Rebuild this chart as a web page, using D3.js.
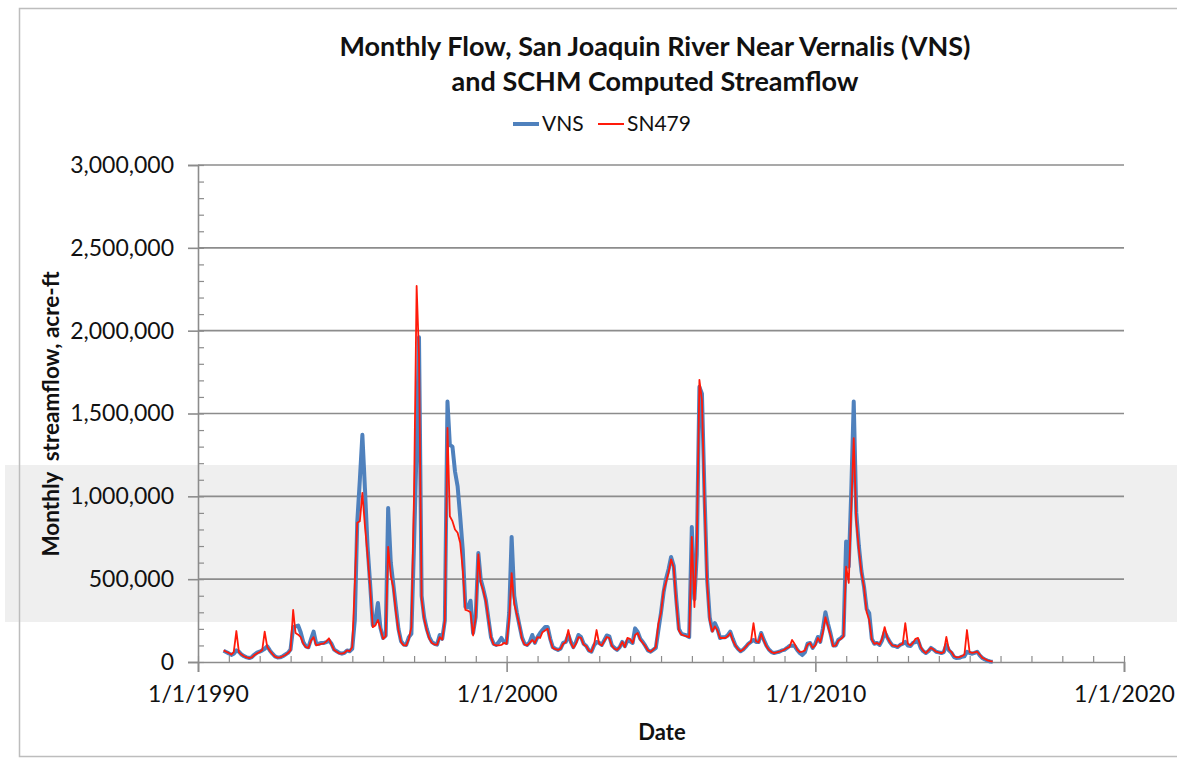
<!DOCTYPE html>
<html>
<head>
<meta charset="utf-8">
<script src="https://cdn.jsdelivr.net/npm/d3@7"></script>
<style>
  html, body { margin: 0; padding: 0; background: #ffffff; }
  svg { display: block; }
  text { font-family: Lato, "Noto Sans", sans-serif; fill: #111; }
</style>
</head>
<body>
<svg id="chart" width="1177" height="760"></svg>
<script>
// Monthly flow, water years 1991-2015 (Oct 1990 .. Sep 2015), acre-ft
const firstMonth = new Date(1990, 9, 1);
const lastMonthExclusive = new Date(2015, 9, 1);

// Observed flow, San Joaquin River near Vernalis
const vns = [
  // WY1991
  68000, 60000, 52000, 43000, 50000, 70000, 62000, 45000, 35000, 28000, 24000, 30000,
  // WY1992
  45000, 56000, 62000, 70000, 80000, 95000, 70000, 50000, 34000, 27000, 28000, 35000,
  // WY1993
  45000, 55000, 75000, 210000, 215000, 220000, 180000, 120000, 95000, 89000, 140000, 183000,
  // WY1994
  110000, 110000, 115000, 115000, 120000, 130000, 110000, 75000, 65000, 55000, 50000, 55000,
  // WY1995
  70000, 65000, 80000, 254000, 840000, 1100000, 1371000, 1040000, 700000, 470000, 223000, 250000,
  // WY1996
  356000, 205000, 145000, 160000, 930000, 600000, 470000, 330000, 200000, 125000, 105000, 103000,
  // WY1997
  150000, 170000, 700000, 1300000, 1960000, 400000, 270000, 200000, 150000, 120000, 110000, 105000,
  // WY1998
  163000, 140000, 250000, 1572000, 1310000, 1300000, 1150000, 1060000, 880000, 676000, 332000, 330000,
  // WY1999
  370000, 175000, 272000, 658000, 500000, 440000, 374000, 260000, 150000, 110000, 103000, 120000,
  // WY2000
  145000, 121000, 115000, 296000, 755000, 400000, 300000, 223000, 150000, 110000, 103000, 121000,
  // WY2001
  163000, 115000, 151000, 175000, 193000, 211000, 211000, 140000, 90000, 80000, 73000, 80000,
  // WY2002
  115000, 121000, 163000, 120000, 90000, 120000, 163000, 150000, 110000, 97000, 70000, 62000,
  // WY2003
  100000, 121000, 115000, 103000, 130000, 160000, 155000, 100000, 85000, 73000, 90000, 121000,
  // WY2004
  95000, 130000, 125000, 115000, 203000, 181000, 140000, 121000, 97000, 70000, 62000, 73000,
  // WY2005
  85000, 190000, 296000, 420000, 500000, 560000, 634000, 580000, 380000, 200000, 170000, 165000,
  // WY2006
  160000, 150000, 815000, 380000, 650000, 1661000, 1620000, 1000000, 500000, 270000, 190000, 235000,
  // WY2007
  200000, 145000, 150000, 150000, 160000, 183000, 140000, 100000, 80000, 65000, 75000, 91000,
  // WY2008
  110000, 121000, 133000, 121000, 120000, 175000, 135000, 100000, 75000, 60000, 54000, 58000,
  // WY2009
  62000, 70000, 73000, 85000, 97000, 100000, 97000, 73000, 55000, 42000, 60000, 110000,
  // WY2010
  115000, 85000, 110000, 151000, 121000, 200000, 300000, 230000, 170000, 100000, 100000, 133000,
  // WY2011
  145000, 160000, 727000, 576000, 1000000, 1572000, 900000, 700000, 550000, 453000, 320000, 296000,
  // WY2012
  140000, 110000, 115000, 103000, 130000, 181000, 150000, 121000, 100000, 97000, 90000, 103000,
  // WY2013
  110000, 121000, 100000, 97000, 115000, 120000, 130000, 85000, 65000, 54000, 65000, 85000,
  // WY2014
  75000, 62000, 58000, 54000, 60000, 103000, 70000, 55000, 30000, 24000, 25000, 32000,
  // WY2015
  35000, 62000, 54000, 50000, 55000, 62000, 40000, 24000, 15000, 8000, 3000, 2000
];

// SCHM computed streamflow at node SN479
const sn479 = [
  // WY1991
  70000, 62000, 55000, 45000, 60000, 187000, 60000, 45000, 35000, 28000, 24000, 28000,
  // WY1992
  42000, 52000, 60000, 72000, 183000, 90000, 68000, 48000, 32000, 27000, 28000, 35000,
  // WY1993
  42000, 54000, 70000, 314000, 175000, 165000, 150000, 110000, 90000, 85000, 130000, 150000,
  // WY1994
  100000, 105000, 110000, 112000, 125000, 143000, 105000, 72000, 62000, 52000, 50000, 55000,
  // WY1995
  70000, 65000, 90000, 477000, 840000, 850000, 1020000, 817000, 650000, 450000, 210000, 220000,
  // WY1996
  254000, 200000, 140000, 155000, 695000, 520000, 450000, 300000, 190000, 120000, 100000, 100000,
  // WY1997
  140000, 211000, 1000000, 2270000, 1850000, 380000, 260000, 190000, 140000, 115000, 105000, 105000,
  // WY1998
  150000, 135000, 250000, 1413000, 880000, 850000, 800000, 780000, 720000, 556000, 314000, 310000,
  // WY1999
  300000, 160000, 270000, 650000, 480000, 430000, 365000, 255000, 150000, 105000, 100000, 100000,
  // WY2000
  103000, 115000, 110000, 260000, 537000, 350000, 290000, 223000, 140000, 105000, 100000, 115000,
  // WY2001
  133000, 115000, 150000, 145000, 180000, 190000, 200000, 133000, 85000, 78000, 73000, 80000,
  // WY2002
  110000, 121000, 193000, 115000, 85000, 110000, 150000, 145000, 105000, 95000, 68000, 62000,
  // WY2003
  103000, 193000, 110000, 100000, 125000, 151000, 145000, 97000, 80000, 73000, 90000, 121000,
  // WY2004
  90000, 145000, 140000, 115000, 163000, 175000, 135000, 115000, 95000, 70000, 62000, 75000,
  // WY2005
  90000, 230000, 296000, 430000, 480000, 540000, 620000, 570000, 360000, 190000, 165000, 160000,
  // WY2006
  155000, 150000, 755000, 332000, 700000, 1703000, 1580000, 950000, 480000, 250000, 183000, 215000,
  // WY2007
  190000, 145000, 145000, 145000, 155000, 175000, 130000, 100000, 78000, 65000, 75000, 91000,
  // WY2008
  110000, 121000, 235000, 125000, 118000, 170000, 130000, 95000, 73000, 60000, 54000, 58000,
  // WY2009
  62000, 68000, 75000, 85000, 90000, 133000, 110000, 75000, 60000, 62000, 70000, 105000,
  // WY2010
  115000, 85000, 100000, 145000, 121000, 180000, 270000, 215000, 160000, 95000, 100000, 130000,
  // WY2011
  140000, 155000, 576000, 477000, 900000, 1351000, 850000, 680000, 540000, 450000, 300000, 254000,
  // WY2012
  135000, 110000, 115000, 105000, 140000, 211000, 150000, 121000, 100000, 97000, 92000, 103000,
  // WY2013
  110000, 235000, 110000, 100000, 115000, 140000, 145000, 90000, 68000, 54000, 70000, 85000,
  // WY2014
  75000, 62000, 58000, 54000, 60000, 151000, 75000, 60000, 35000, 28000, 30000, 35000,
  // WY2015
  45000, 193000, 60000, 55000, 58000, 62000, 45000, 25000, 18000, 10000, 5000, 3000
];

const yTickValues = [0, 500000, 1000000, 1500000, 2000000, 2500000, 3000000];
const xTickYears = [1990, 2000, 2010, 2020];
const seriesNames = ["VNS", "SN479"];
const seriesColors = ["#4f81bd", "#ff1a0a"];

const titleLines = [
  "Monthly Flow, San Joaquin River Near Vernalis (VNS)",
  "and SCHM Computed Streamflow"
];

// Each value is plotted at the last day of its month
const months = d3.timeMonth.range(firstMonth, lastMonthExclusive)
  .map(m => d3.timeDay.offset(d3.timeMonth.offset(m, 1), -1));

const svg = d3.select("#chart");

const x = d3.scaleTime()
  .domain([new Date(1990, 0, 1), new Date(2020, 0, 1)])
  .range([198, 1124]);
const y = d3.scaleLinear()
  .domain([0, 3000000])
  .range([662, 165]);

// Chart frame
svg.append("rect")
  .attr("x", 19.5).attr("y", 8.5)
  .attr("width", 1177).attr("height", 748)
  .attr("fill", "#ffffff")
  .attr("stroke", "#bdbdbd").attr("stroke-width", 1.5);

// Light shaded band across the middle of the frame
svg.append("rect")
  .attr("x", 5).attr("y", 465)
  .attr("width", 1172).attr("height", 157)
  .attr("fill", "#efefef");
svg.append("line")
  .attr("x1", 19.5).attr("x2", 19.5).attr("y1", 465).attr("y2", 622)
  .attr("stroke", "#bdbdbd").attr("stroke-width", 1.5);

// Horizontal gridlines
svg.append("g")
  .selectAll("line")
  .data(yTickValues.filter(v => v > 0))
  .join("line")
  .attr("x1", x.range()[0]).attr("x2", x.range()[1])
  .attr("y1", d => y(d)).attr("y2", d => y(d))
  .attr("stroke", "#8c8c8c").attr("stroke-width", 1.6);

// Y axis: major ticks with labels outside, minor ticks inside
const yAxis = svg.append("g")
  .attr("transform", `translate(${x.range()[0]},0)`)
  .call(d3.axisLeft(y).tickValues(yTickValues).tickSize(10).tickPadding(14)
    .tickFormat(d3.format(",")));
yAxis.select(".domain").attr("stroke", "#8c8c8c").attr("stroke-width", 1.6);
yAxis.selectAll(".tick line").attr("stroke", "#8c8c8c").attr("stroke-width", 1.6);
yAxis.selectAll(".tick text")
  .attr("font-family", "Lato, sans-serif").attr("font-size", 23).attr("fill", "#111");

const yMinor = svg.append("g")
  .attr("transform", `translate(${x.range()[0]},0)`)
  .call(d3.axisRight(y).tickValues(d3.range(0, 3000001, 100000)).tickSize(6).tickFormat(""));
yMinor.select(".domain").remove();
yMinor.selectAll(".tick line").attr("stroke", "#8c8c8c").attr("stroke-width", 1.2);

// X axis: decade ticks with labels, yearly minor ticks inside
const xAxis = svg.append("g")
  .attr("transform", `translate(0,${y(0)})`)
  .call(d3.axisBottom(x)
    .tickValues(xTickYears.map(yr => new Date(yr, 0, 1)))
    .tickSize(10).tickPadding(14)
    .tickFormat(d => `${d.getMonth() + 1}/${d.getDate()}/${d.getFullYear()}`));
xAxis.select(".domain").attr("stroke", "#8c8c8c").attr("stroke-width", 1.6);
xAxis.selectAll(".tick line").attr("stroke", "#8c8c8c").attr("stroke-width", 1.6);
xAxis.selectAll(".tick text")
  .attr("font-family", "Lato, sans-serif").attr("font-size", 23).attr("fill", "#111");

const xMinor = svg.append("g")
  .attr("transform", `translate(0,${y(0)})`)
  .call(d3.axisTop(x).tickValues(d3.timeYear.range(new Date(1990, 0, 1), new Date(2020, 0, 2)))
    .tickSize(6).tickFormat(""));
xMinor.select(".domain").remove();
xMinor.selectAll(".tick line").attr("stroke", "#8c8c8c").attr("stroke-width", 1.2);

// Series lines
const line = d3.line()
  .x((d, i) => x(months[i]))
  .y(d => y(d));

svg.append("path")
  .datum(vns)
  .attr("d", line)
  .attr("fill", "none")
  .attr("stroke", seriesColors[0])
  .attr("stroke-width", 4)
  .attr("stroke-linejoin", "round");

svg.append("path")
  .datum(sn479)
  .attr("d", line)
  .attr("fill", "none")
  .attr("stroke", seriesColors[1])
  .attr("stroke-width", 1.8)
  .attr("stroke-linejoin", "round");

// Title
svg.append("g")
  .selectAll("text")
  .data(titleLines)
  .join("text")
  .attr("x", 655)
  .attr("y", (d, i) => 56 + i * 35)
  .attr("text-anchor", "middle")
  .attr("font-weight", "bold")
  .attr("font-size", 27)
  .text(d => d);

// Legend
const legend = svg.append("g");
const legendItems = [
  { name: seriesNames[0], color: seriesColors[0], width: 4, x0: 513 },
  { name: seriesNames[1], color: seriesColors[1], width: 2, x0: 598 }
];
legendItems.forEach(item => {
  legend.append("line")
    .attr("x1", item.x0).attr("x2", item.x0 + 26)
    .attr("y1", 124).attr("y2", 124)
    .attr("stroke", item.color).attr("stroke-width", item.width);
  legend.append("text")
    .attr("x", item.x0 + 29).attr("y", 131)
    .attr("font-size", 21)
    .text(item.name);
});

// Axis titles
svg.append("text")
  .attr("transform", "translate(59,414) rotate(-90)")
  .attr("text-anchor", "middle")
  .attr("font-weight", "bold")
  .attr("font-size", 22.5)
  .style("white-space", "pre")
  .text("Monthly  streamflow, acre-ft");

svg.append("text")
  .attr("x", 662).attr("y", 740)
  .attr("text-anchor", "middle")
  .attr("font-weight", "bold")
  .attr("font-size", 22)
  .text("Date");
</script>
</body>
</html>
